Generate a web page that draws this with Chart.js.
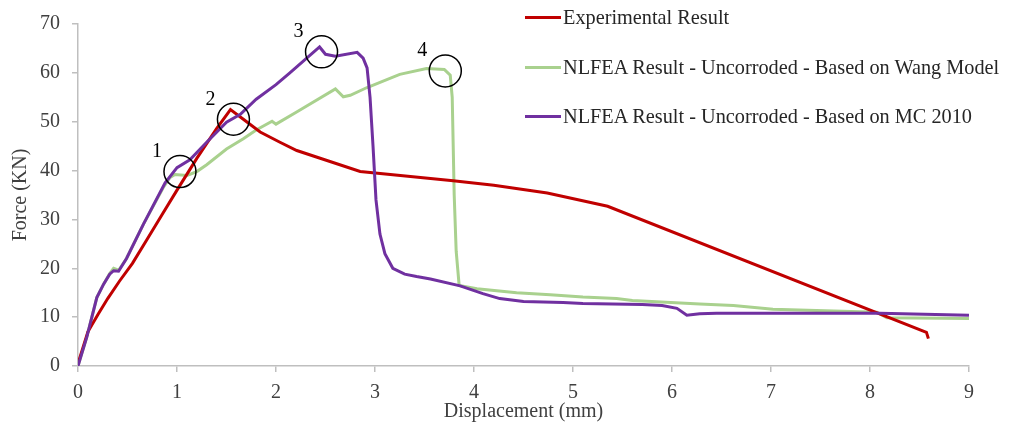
<!DOCTYPE html>
<html lang="en">
<head>
    <meta charset="UTF-8">
    <title>Force - Displacement</title>
    <script src="https://cdn.jsdelivr.net/npm/chart.js"></script>
    <style>
        body { margin: 0; padding: 0; background: #fff; }
        .wrap { position: relative; width: 1017px; height: 439px; }
        .legend { position: absolute; left: 525px; top: 0; font-family: "Liberation Serif", serif; font-size: 20.3px; color: #262626; }
        .legend .row { position: absolute; left: 0; white-space: nowrap; display: flex; align-items: center; height: 24px; }
        .legend .swatch { width: 36px; height: 3px; margin-right: 2px; }
    </style>
</head>
<body>
    <div class="wrap">
        <canvas id="forceChart" width="1017" height="439"></canvas>
        <div class="legend" id="legend"></div>
    </div>
    <script>
        // Experimental result
        const expX = [0, 0.1, 0.2, 0.3, 0.42, 0.55, 0.7, 0.85, 1.0, 1.2, 1.4, 1.54, 1.67, 1.84, 2.04, 2.21, 2.85, 3.79, 4.2, 4.74, 5.35, 8.57, 8.59];
        const expY = [0.5, 7, 10.5, 13.8, 17.4, 21, 26, 31, 36, 42.5, 48.6, 52.5, 50.5, 47.9, 45.8, 44.1, 39.8, 37.9, 37.0, 35.4, 32.7, 6.9, 5.6];

        // NLFEA - Wang model
        const wangX = [0, 0.09, 0.19, 0.26, 0.32, 0.36, 0.41, 0.49, 0.66, 0.86, 0.93, 0.98, 1.1, 1.2, 1.3, 1.5, 1.67, 1.8, 1.96, 2.0, 2.2, 2.6, 2.68, 2.75, 2.92, 3.25, 3.52, 3.7, 3.76, 3.78, 3.8, 3.82, 3.85, 4.03, 4.43, 4.77, 5.1, 5.44, 5.6, 6.28, 6.62, 7.02, 8.07, 8.17, 9.0];
        const wangY = [0, 6, 14, 16.8, 18.9, 20, 19.6, 22, 29, 36.5, 38.6, 39.2, 39, 39.8, 41.2, 44.4, 46.5, 48.3, 50.1, 49.5, 51.9, 56.7, 55.1, 55.4, 57, 59.7, 60.9, 60.7, 59.5, 55, 35, 23.5, 16.5, 15.8, 15, 14.6, 14.1, 13.8, 13.4, 12.7, 12.4, 11.6, 11, 9.9, 9.7];

        // NLFEA - MC 2010
        const mcX = [0, 0.09, 0.19, 0.26, 0.32, 0.36, 0.41, 0.49, 0.66, 0.88, 1.0, 1.13, 1.3, 1.5, 1.64, 1.8, 2.0, 2.14, 2.44, 2.5, 2.6, 2.82, 2.88, 2.92, 2.95, 2.98, 3.01, 3.05, 3.1, 3.18, 3.3, 3.42, 3.56, 3.86, 4.09, 4.26, 4.5, 4.9, 5.1, 5.7, 5.9, 6.05, 6.15, 6.28, 6.45, 7.1, 8.1, 9.0];
        const mcY = [0, 6, 14, 16.8, 18.8, 19.5, 19.4, 22, 29, 37.5, 40.6, 42.2, 45.8, 49.9, 51.5, 54.6, 57.6, 60, 65.3, 63.8, 63.4, 64.2, 63, 61, 55, 45, 34, 27, 23, 20, 18.8, 18.3, 17.8, 16.4, 14.8, 13.8, 13.2, 13.0, 12.8, 12.6, 12.4, 11.8, 10.4, 10.7, 10.8, 10.8, 10.8, 10.4];

        // numbered stage markers
        const stageLabels = ['1', '2', '3', '4'];
        const stageX = [1.03, 1.57, 2.46, 3.71];
        const stageY = [39.8, 50.5, 64.3, 60.4];

        const xTicks = [0, 1, 2, 3, 4, 5, 6, 7, 8, 9];
        const yTicks = [0, 10, 20, 30, 40, 50, 60, 70];

        const seriesNames = [
            'Experimental Result',
            'NLFEA Result - Uncorroded - Based on Wang Model',
            'NLFEA Result - Uncorroded - Based on MC 2010'
        ];
        const seriesColors = ['#C00000', '#A9D18E', '#7030A0'];

        const toPoints = (xs, ys) => xs.map((x, i) => ({ x: x, y: ys[i] }));

        const fontFamily = '"Liberation Serif", serif';
        const textColor = '#404040';
        const axisColor = '#BFBFBF';

        const stageMarkers = {
            id: 'stageMarkers',
            afterDatasetsDraw(chart) {
                const ctx = chart.ctx;
                const xs = chart.scales.x;
                const ys = chart.scales.y;
                ctx.save();
                ctx.strokeStyle = '#000';
                ctx.lineWidth = 1.5;
                ctx.fillStyle = '#000';
                ctx.font = '20px ' + fontFamily;
                ctx.textAlign = 'center';
                ctx.textBaseline = 'middle';
                for (let i = 0; i < stageX.length; i++) {
                    const cx = xs.getPixelForValue(stageX[i]);
                    const cy = ys.getPixelForValue(stageY[i]);
                    ctx.beginPath();
                    ctx.arc(cx, cy, 16, 0, Math.PI * 2);
                    ctx.stroke();
                    ctx.fillText(stageLabels[i], cx - 23, cy - 20);
                }
                ctx.restore();
            }
        };

        const forceChart = new Chart(document.getElementById('forceChart').getContext('2d'), {
            type: 'scatter',
            data: {
                datasets: [
                    { label: seriesNames[0], data: toPoints(expX, expY), borderColor: seriesColors[0], order: 1 },
                    { label: seriesNames[1], data: toPoints(wangX, wangY), borderColor: seriesColors[1], order: 2 },
                    { label: seriesNames[2], data: toPoints(mcX, mcY), borderColor: seriesColors[2], order: 0 }
                ].map(d => Object.assign(d, { showLine: true, borderWidth: 3, pointRadius: 0, tension: 0, fill: false }))
            },
            options: {
                responsive: false,
                animation: false,
                layout: { padding: { left: 0, top: 21, right: 48, bottom: 0 } },
                plugins: { legend: { display: false }, tooltip: { enabled: false } },
                scales: {
                    x: {
                        type: 'linear',
                        min: 0, max: 9,
                        afterBuildTicks: s => { s.ticks = xTicks.map(v => ({ value: v })); },
                        afterFit: s => { s.height = 73; },
                        grid: { drawOnChartArea: false, drawTicks: true, tickLength: 6, color: axisColor, lineWidth: 1.5 },
                        border: { color: axisColor, width: 1.5 },
                        ticks: { color: textColor, font: { family: fontFamily, size: 20 }, padding: 9, maxRotation: 0 },
                        title: { display: true, text: 'Displacement (mm)', color: textColor, font: { family: fontFamily, size: 20 }, padding: { top: 15, bottom: 15 } }
                    },
                    y: {
                        type: 'linear',
                        min: 0, max: 70,
                        afterBuildTicks: s => { s.ticks = yTicks.map(v => ({ value: v })); },
                        afterFit: s => { s.width = 78; },
                        grid: { drawOnChartArea: false, drawTicks: true, tickLength: 6, color: axisColor, lineWidth: 1.5 },
                        border: { color: axisColor, width: 1.5 },
                        ticks: { color: textColor, font: { family: fontFamily, size: 20 }, padding: 12 },
                        title: { display: true, text: 'Force (KN)', color: textColor, font: { family: fontFamily, size: 20 }, padding: { top: 9, bottom: 9 } }
                    }
                }
            },
            plugins: [stageMarkers]
        });

        // legend sits over the plot's upper right
        const legendTops = [5, 55, 104];
        const legendDiv = document.getElementById('legend');
        seriesNames.forEach((name, i) => {
            const row = document.createElement('div');
            row.className = 'row';
            row.style.top = legendTops[i] + 'px';
            row.innerHTML = '<span class="swatch" style="background:' + seriesColors[i] + '"></span><span>' + name + '</span>';
            legendDiv.appendChild(row);
        });
    </script>
</body>
</html>
